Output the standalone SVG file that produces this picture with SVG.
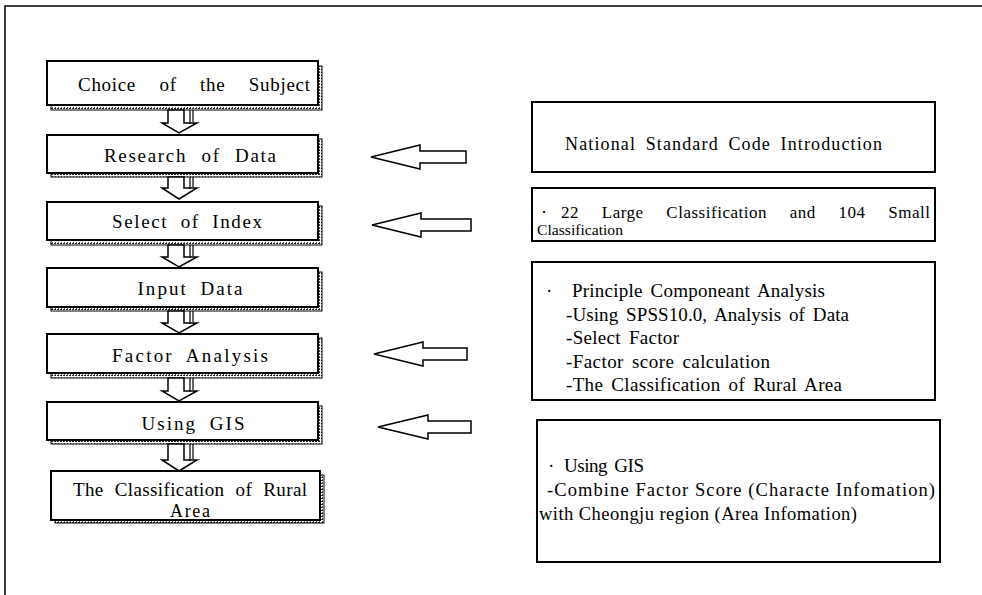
<svg xmlns="http://www.w3.org/2000/svg" width="982" height="595" viewBox="0 0 982 595">
<defs>
<pattern id="hatch" width="3" height="3" patternUnits="userSpaceOnUse">
<rect width="3" height="3" fill="#fff"/>
<rect width="2" height="1" fill="#222"/>
<rect x="1" y="2" width="1" height="1" fill="#555"/>
</pattern>
<style>
.frame{fill:none;stroke:#000;stroke-width:1.5}
.box{fill:#fff;stroke:#000;stroke-width:2}
.shadow{fill:url(#hatch);stroke:#000;stroke-width:1}
.t{font-family:"Liberation Serif",serif;font-size:19px;fill:#000}
.tc{text-anchor:middle}
.s{font-family:"Liberation Serif",serif;font-size:16px;fill:#000}
.arr{fill:#fff;stroke:#000;stroke-width:1.5;stroke-linejoin:miter}
.arrs{fill:none;stroke:#000;stroke-width:1.2}
</style>
</defs>
<rect width="982" height="595" fill="#fff"/>
<path class="frame" d="M5,595 V6 H982"/>

<g id="n1">
<rect class="shadow" x="51" y="66" width="271" height="44"/>
<rect class="box" x="47" y="61" width="271" height="44"/>
<text class="t tc" x="194" y="91" word-spacing="18" textLength="232" lengthAdjust="spacing">Choice of the Subject</text>
</g>
<g id="n2">
<rect class="shadow" x="51" y="139" width="271" height="38"/>
<rect class="box" x="47" y="135" width="271" height="38"/>
<text class="t tc" x="190" y="162" word-spacing="8" textLength="172" lengthAdjust="spacing">Research of Data</text>
</g>
<g id="n3">
<rect class="shadow" x="51" y="206" width="271" height="39"/>
<rect class="box" x="47" y="202" width="271" height="38"/>
<text class="t tc" x="187" y="228" word-spacing="6" textLength="150" lengthAdjust="spacing">Select of Index</text>
</g>
<g id="n4">
<rect class="shadow" x="51" y="272" width="271" height="39"/>
<rect class="box" x="47" y="268" width="271" height="39"/>
<text class="t tc" x="190" y="295" word-spacing="6" textLength="105" lengthAdjust="spacing">Input Data</text>
</g>
<g id="n5">
<rect class="shadow" x="51" y="338" width="271" height="40"/>
<rect class="box" x="47" y="334" width="271" height="39"/>
<text class="t tc" x="190" y="362" word-spacing="6" textLength="156" lengthAdjust="spacing">Factor Analysis</text>
</g>
<g id="n6">
<rect class="shadow" x="51" y="406" width="271" height="38"/>
<rect class="box" x="47" y="402" width="271" height="38"/>
<text class="t tc" x="193" y="430" word-spacing="6" textLength="103" lengthAdjust="spacing">Using GIS</text>
</g>
<g id="n7">
<rect class="shadow" x="55" y="475" width="269" height="48"/>
<rect class="box" x="51" y="471" width="269" height="49"/>
<svg x="51" y="471" width="269" height="48" overflow="hidden">
<text class="t tc" x="139" y="25" word-spacing="6" textLength="234" lengthAdjust="spacing">The Classification of Rural</text>
<text class="t tc" x="139" y="46" style="font-size:18px" textLength="40" lengthAdjust="spacing">Area</text>
</svg>
</g>

<g id="r1">
<rect class="box" x="532" y="102" width="403" height="70"/>
<text class="t" x="565" y="150" style="font-size:18px" word-spacing="4" textLength="317" lengthAdjust="spacing">National Standard Code Introduction</text>
</g>
<g id="r2">
<rect class="box" x="532" y="188" width="403" height="53"/>
<text class="s" x="541" y="218" style="font-size:18px">·</text>
<text class="s" x="561" y="218" style="font-size:17px" word-spacing="18" textLength="369" lengthAdjust="spacing">22 Large Classification and 104 Small</text>
<text class="s" x="537" y="235" style="font-size:15px" textLength="86" lengthAdjust="spacingAndGlyphs">Classification</text>
</g>
<g id="r3">
<rect class="box" x="532" y="262" width="403" height="138"/>
<text class="t" x="546" y="297">·</text>
<text class="t" x="572" y="297" word-spacing="3" textLength="253" lengthAdjust="spacing">Principle Componeant Analysis</text>
<text class="t" x="566" y="321" word-spacing="3" textLength="283" lengthAdjust="spacing">-Using SPSS10.0, Analysis of Data</text>
<text class="t" x="566" y="344" word-spacing="3" textLength="113" lengthAdjust="spacing">-Select Factor</text>
<text class="t" x="566" y="368" word-spacing="3" textLength="204" lengthAdjust="spacing">-Factor score calculation</text>
<text class="t" x="566" y="391" word-spacing="3" textLength="276" lengthAdjust="spacing">-The Classification of Rural Area</text>
</g>
<g id="r4">
<rect class="box" x="537" y="420" width="403" height="142"/>
<text class="t" x="548" y="472">·</text>
<text class="t" x="564" y="472" word-spacing="3" textLength="80" lengthAdjust="spacing">Using GIS</text>
<text class="s" x="547" y="496" style="font-size:18.5px" textLength="388" lengthAdjust="spacing">-Combine Factor Score (Characte Infomation)</text>
<text class="s" x="539" y="520" style="font-size:18.5px" textLength="318" lengthAdjust="spacing">with Cheongju region (Area Infomation)</text>
</g>

<g id="connectors">
<g id="down">
<path class="arr" d="M168,110 V123 H162 L179,133 L197,123 H184 V110 Z"/>
<path class="arrs" d="M190,110 V124 M193,110 V122"/>
<path class="arr" d="M168,177 V188 H162 L179,199 L197,188 H184 V177 Z"/>
<path class="arrs" d="M190,177 V189 M193,177 V187"/>
<path class="arr" d="M168,245 V257 H162 L179,267 L197,257 H184 V245 Z"/>
<path class="arrs" d="M190,245 V258 M193,245 V256"/>
<path class="arr" d="M168,311 V323 H162 L179,333 L197,323 H184 V311 Z"/>
<path class="arrs" d="M190,311 V324 M193,311 V322"/>
<path class="arr" d="M168,378 V391 H162 L179,401 L197,391 H184 V378 Z"/>
<path class="arrs" d="M190,378 V392 M193,378 V390"/>
<path class="arr" d="M168,444 V460 H162 L179,471 L197,460 H184 V444 Z"/>
<path class="arrs" d="M190,444 V461 M193,444 V459"/>
</g>
<g id="left">
<path class="arr" d="M371,157 L420,145 V151 H466 V163 H420 V169 Z"/>
<path class="arr" d="M372,225 L421,213 V219 H471 V231 H421 V237 Z"/>
<path class="arr" d="M374,354 L423,342 V348 H467 V360 H423 V366 Z"/>
<path class="arr" d="M378,427 L428,415 V421 H471 V433 H428 V439 Z"/>
</g>
</g>
</svg>
